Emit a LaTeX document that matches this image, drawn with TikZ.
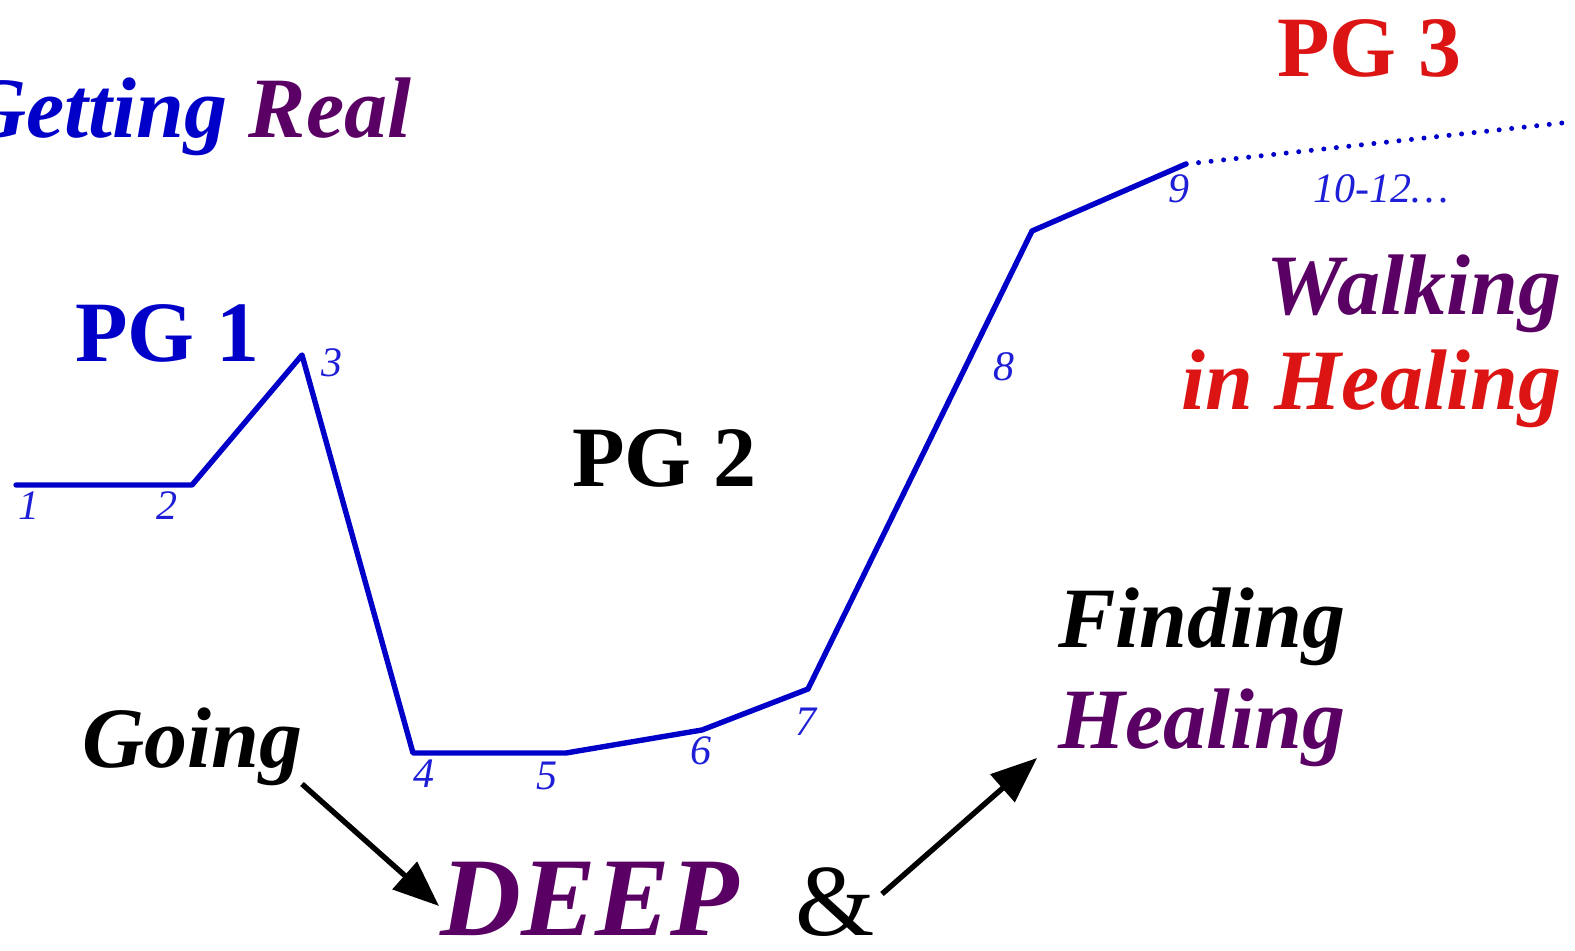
\documentclass[tikz,border=0pt]{standalone}
\usepackage{fontspec}
\setmainfont{Liberation Serif}
\usetikzlibrary{arrows.meta}
\definecolor{pgblue}{RGB}{0,0,200}
\definecolor{numblue}{RGB}{30,30,215}
\definecolor{pgpurple}{RGB}{90,0,100}
\definecolor{pgred}{RGB}{220,20,20}
\begin{document}
\begin{tikzpicture}[x=0.5pt,y=-0.5pt,
  big/.style={font=\fontsize{43}{50}\selectfont\bfseries, inner sep=0, anchor=base west},
  bigit/.style={font=\fontsize{43}{50}\selectfont\bfseries\itshape, inner sep=0},
  num/.style={font=\fontsize{21}{24}\selectfont\itshape, text=numblue, inner sep=0, anchor=base},
  curve/.style={draw=pgblue, line width=2.7pt, line join=round, line cap=round},
  dotline/.style={draw=pgblue, line width=2.5pt, line cap=round, dash pattern=on 0pt off 6.3pt},
  pointer/.style={draw=black, line width=2.7pt, -{Triangle[length=23pt,width=18pt]}}]
\useasboundingbox (0,0) rectangle (1575,951);
\clip (0,0) rectangle (1575,951);
% curve points
\coordinate (p1) at (16,485);
\coordinate (p2) at (192,485);
\coordinate (p3) at (302,355);
\coordinate (p4) at (413,753);
\coordinate (p5) at (566,753);
\coordinate (p6) at (702,730);
\coordinate (p7) at (808,689);
\coordinate (p8) at (1032,231);
\coordinate (p9) at (1186,164);
\coordinate (p10) at (1562,123);
\draw[curve] (p1) -- (p2) -- (p3) -- (p4) -- (p5) -- (p6) -- (p7) -- (p8) -- (p9);
\draw[dotline] (p9) -- (p10);
% number labels
\node[num] (n1) at (29,520) {1};
\node[num] (n2) at (167,520) {2};
\node[num] (n3) at (332,377) {3};
\node[num] (n4) at (424,788) {4};
\node[num] (n5) at (547,790) {5};
\node[num] (n6) at (701,765) {6};
\node[num] (n7) at (806,736) {7};
\node[num] (n8) at (1004,381) {8};
\node[num] (n9) at (1179,203) {9};
\node[num, anchor=base west] (n10) at (1313,203) {10-12\ldots};
% titles
\node[big, text=pgblue] (pg1) at (75,362) {PG 1};
\node[big, text=black] (pg2) at (572,487) {PG 2};
\node[big, text=pgred] (pg3) at (1277,77) {PG 3};
\node[bigit, anchor=base west] (real) at (-36,138) {\textcolor{pgblue}{Getting} \textcolor{pgpurple}{Real}};
\node[bigit, anchor=base east, text=pgpurple] (walk) at (1562,315) {Walking};
\node[bigit, anchor=base east, text=pgred] (inheal) at (1562,410) {in Healing};
\node[bigit, anchor=base west, text=black] (find) at (1058,648) {Finding};
\node[bigit, anchor=base west, text=pgpurple] (fheal) at (1058,748) {Healing};
\node[bigit, anchor=base west, text=black] (going) at (82,768) {Going};
\node[font=\fontsize{56}{60}\selectfont\bfseries\itshape, text=pgpurple, inner sep=0, text depth=0pt, anchor=base west] (deep) at (440,935) {DEEP};
\node[font=\fontsize{51}{56}\selectfont, text=black, inner sep=0, text depth=0pt, anchor=base west] (amp) at (795,935) {\&};
% arrows
\coordinate (a1s) at (302,784);
\coordinate (a1e) at (439,906);
\coordinate (a2s) at (882,894);
\coordinate (a2e) at (1037,758);
\draw[pointer] (a1s) -- (a1e);
\draw[pointer] (a2s) -- (a2e);
\end{tikzpicture}
\end{document}
